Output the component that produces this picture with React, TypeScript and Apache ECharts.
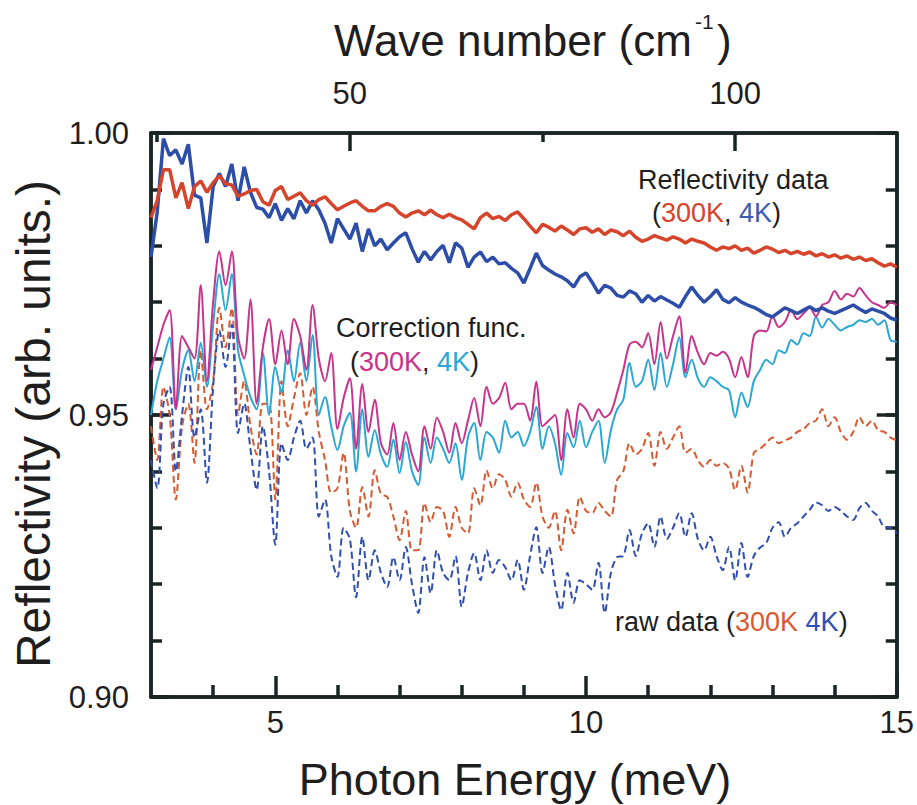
import React, { useEffect, useRef } from "react";
import * as echarts from "echarts";

// Photon energy grid (meV)
const energy = [
  3.0, 3.1, 3.2, 3.3, 3.4, 3.5, 3.6, 3.7, 3.8, 3.9,
  4.0, 4.1, 4.2, 4.3, 4.4, 4.5, 4.6, 4.7, 4.8, 4.9,
  5.0, 5.1, 5.2, 5.3, 5.4, 5.5, 5.6, 5.7, 5.8, 5.9,
  6.0, 6.1, 6.2, 6.3, 6.4, 6.5, 6.6, 6.7, 6.8, 6.9,
  7.0, 7.1, 7.2, 7.3, 7.4, 7.5, 7.6, 7.7, 7.8, 7.9,
  8.0, 8.1, 8.2, 8.3, 8.4, 8.5, 8.6, 8.7, 8.8, 8.9,
  9.0, 9.1, 9.2, 9.3, 9.4, 9.5, 9.6, 9.7, 9.8, 9.9,
  10.0, 10.1, 10.2, 10.3, 10.4, 10.5, 10.6, 10.7, 10.8, 10.9,
  11.0, 11.1, 11.2, 11.3, 11.4, 11.5, 11.6, 11.7, 11.8, 11.9,
  12.0, 12.1, 12.2, 12.3, 12.4, 12.5, 12.6, 12.7, 12.8, 12.9,
  13.0, 13.1, 13.2, 13.3, 13.4, 13.5, 13.6, 13.7, 13.8, 13.9,
  14.0, 14.1, 14.2, 14.3, 14.4, 14.5, 14.6, 14.7, 14.8, 14.9,
  15.0,
];

// Reflectivity data 300K
const refl300K = [
  0.9850, 0.9880, 0.9935, 0.9935, 0.9885, 0.9912, 0.9866, 0.9905, 0.9915, 0.9895,
  0.9912, 0.9924, 0.9910, 0.9908, 0.9888, 0.9892, 0.9898, 0.9900, 0.9878, 0.9872,
  0.9898, 0.9905, 0.9882, 0.9888, 0.9894, 0.9880, 0.9872, 0.9882, 0.9887, 0.9875,
  0.9864, 0.9870, 0.9876, 0.9880, 0.9870, 0.9862, 0.9862, 0.9870, 0.9875, 0.9870,
  0.9858, 0.9851, 0.9858, 0.9862, 0.9855, 0.9863, 0.9855, 0.9850, 0.9856, 0.9850,
  0.9846, 0.9838, 0.9830, 0.9850, 0.9858, 0.9848, 0.9852, 0.9845, 0.9855, 0.9860,
  0.9848, 0.9835, 0.9823, 0.9838, 0.9833, 0.9826, 0.9835, 0.9828, 0.9820, 0.9830,
  0.9832, 0.9824, 0.9830, 0.9820, 0.9828, 0.9825, 0.9818, 0.9826, 0.9815, 0.9808,
  0.9812, 0.9818, 0.9814, 0.9810, 0.9816, 0.9812, 0.9805, 0.9812, 0.9808, 0.9805,
  0.9798, 0.9792, 0.9798, 0.9795, 0.9800, 0.9792, 0.9796, 0.9787, 0.9792, 0.9798,
  0.9794, 0.9788, 0.9792, 0.9786, 0.9790, 0.9785, 0.9789, 0.9782, 0.9786, 0.9780,
  0.9784, 0.9778, 0.9782, 0.9776, 0.9780, 0.9774, 0.9777, 0.9770, 0.9764, 0.9768,
  0.9762,
];

// Reflectivity data 4K
const refl4K = [
  0.9780, 0.9860, 0.9990, 0.9960, 0.9970, 0.9945, 0.9980, 0.9890, 0.9885, 0.9805,
  0.9905, 0.9928, 0.9905, 0.9945, 0.9880, 0.9940, 0.9895, 0.9868, 0.9865, 0.9850,
  0.9875, 0.9845, 0.9866, 0.9848, 0.9880, 0.9858, 0.9880, 0.9864, 0.9840, 0.9805,
  0.9848, 0.9830, 0.9812, 0.9840, 0.9790, 0.9830, 0.9800, 0.9812, 0.9793, 0.9805,
  0.9816, 0.9823, 0.9795, 0.9771, 0.9790, 0.9775, 0.9790, 0.9801, 0.9770, 0.9805,
  0.9796, 0.9762, 0.9780, 0.9789, 0.9772, 0.9780, 0.9768, 0.9770, 0.9760, 0.9752,
  0.9734, 0.9760, 0.9787, 0.9765, 0.9757, 0.9750, 0.9745, 0.9738, 0.9727, 0.9745,
  0.9752, 0.9735, 0.9716, 0.9730, 0.9725, 0.9712, 0.9709, 0.9720, 0.9715, 0.9700,
  0.9712, 0.9702, 0.9710, 0.9704, 0.9698, 0.9691, 0.9710, 0.9727, 0.9712, 0.9700,
  0.9710, 0.9722, 0.9705, 0.9699, 0.9708, 0.9700, 0.9695, 0.9691, 0.9685, 0.9678,
  0.9674, 0.9682, 0.9690, 0.9685, 0.9680, 0.9686, 0.9692, 0.9685, 0.9690, 0.9684,
  0.9680, 0.9685, 0.9690, 0.9695, 0.9688, 0.9682, 0.9688, 0.9684, 0.9680, 0.9672,
  0.9668,
];

// Correction function 300K
const corr300K = [
  0.9580, 0.9620, 0.9660, 0.9686, 0.9510, 0.9640, 0.9620, 0.9600, 0.9730, 0.9560,
  0.9700, 0.9790, 0.9730, 0.9790, 0.9640, 0.9600, 0.9705, 0.9520, 0.9620, 0.9670,
  0.9590, 0.9650, 0.9590, 0.9670, 0.9640, 0.9580, 0.9695, 0.9600, 0.9560, 0.9610,
  0.9475, 0.9530, 0.9565, 0.9440, 0.9555, 0.9470, 0.9527, 0.9450, 0.9430, 0.9486,
  0.9420, 0.9470, 0.9430, 0.9400, 0.9480, 0.9440, 0.9495, 0.9470, 0.9433, 0.9486,
  0.9450, 0.9490, 0.9530, 0.9480, 0.9550, 0.9520, 0.9530, 0.9557, 0.9510, 0.9520,
  0.9520, 0.9490, 0.9559, 0.9480, 0.9490, 0.9500, 0.9420, 0.9510, 0.9460, 0.9520,
  0.9510, 0.9490, 0.9510, 0.9496, 0.9505, 0.9540, 0.9580, 0.9625, 0.9630, 0.9620,
  0.9645, 0.9590, 0.9665, 0.9600, 0.9640, 0.9675, 0.9575, 0.9640, 0.9610, 0.9590,
  0.9610, 0.9605, 0.9612, 0.9600, 0.9567, 0.9603, 0.9567, 0.9640, 0.9650, 0.9648,
  0.9675, 0.9656, 0.9665, 0.9686, 0.9670, 0.9680, 0.9690, 0.9675, 0.9695, 0.9700,
  0.9720, 0.9705, 0.9715, 0.9710, 0.9725, 0.9712, 0.9700, 0.9695, 0.9690, 0.9700,
  0.9695,
];

// Correction function 4K
const corr4K = [
  0.9500, 0.9560, 0.9600, 0.9638, 0.9510, 0.9580, 0.9615, 0.9560, 0.9628, 0.9550,
  0.9660, 0.9750, 0.9686, 0.9750, 0.9615, 0.9570, 0.9532, 0.9510, 0.9610, 0.9500,
  0.9585, 0.9540, 0.9615, 0.9560, 0.9628, 0.9560, 0.9642, 0.9500, 0.9532, 0.9480,
  0.9438, 0.9480, 0.9504, 0.9400, 0.9510, 0.9426, 0.9473, 0.9430, 0.9408, 0.9456,
  0.9397, 0.9452, 0.9400, 0.9376, 0.9460, 0.9415, 0.9460, 0.9440, 0.9415, 0.9450,
  0.9385, 0.9460, 0.9486, 0.9420, 0.9470, 0.9460, 0.9433, 0.9490, 0.9460, 0.9470,
  0.9445, 0.9470, 0.9514, 0.9440, 0.9480, 0.9450, 0.9394, 0.9468, 0.9443, 0.9490,
  0.9443, 0.9470, 0.9490, 0.9415, 0.9473, 0.9510, 0.9527, 0.9592, 0.9550, 0.9560,
  0.9598, 0.9544, 0.9610, 0.9550, 0.9590, 0.9638, 0.9567, 0.9598, 0.9565, 0.9550,
  0.9567, 0.9560, 0.9550, 0.9544, 0.9496, 0.9540, 0.9514, 0.9560, 0.9580, 0.9598,
  0.9590, 0.9615, 0.9610, 0.9633, 0.9625, 0.9645, 0.9640, 0.9674, 0.9655, 0.9670,
  0.9660, 0.9650, 0.9656, 0.9660, 0.9668, 0.9665, 0.9670, 0.9660, 0.9668, 0.9633,
  0.9630,
];

// Raw data 300K
const raw300K = [
  0.9480, 0.9420, 0.9550, 0.9500, 0.9350, 0.9480, 0.9520, 0.9415, 0.9615, 0.9510,
  0.9560, 0.9690, 0.9620, 0.9690, 0.9500, 0.9560, 0.9480, 0.9430, 0.9520, 0.9520,
  0.9350, 0.9560, 0.9480, 0.9530, 0.9574, 0.9500, 0.9550, 0.9470, 0.9420, 0.9362,
  0.9370, 0.9433, 0.9330, 0.9300, 0.9372, 0.9320, 0.9402, 0.9360, 0.9355, 0.9320,
  0.9278, 0.9330, 0.9260, 0.9260, 0.9344, 0.9310, 0.9337, 0.9330, 0.9284, 0.9337,
  0.9300, 0.9290, 0.9370, 0.9340, 0.9402, 0.9370, 0.9395, 0.9385, 0.9355, 0.9380,
  0.9350, 0.9337, 0.9380, 0.9320, 0.9300, 0.9330, 0.9260, 0.9332, 0.9290, 0.9355,
  0.9330, 0.9326, 0.9344, 0.9330, 0.9320, 0.9385, 0.9400, 0.9450, 0.9430, 0.9440,
  0.9468, 0.9410, 0.9470, 0.9440, 0.9460, 0.9480, 0.9433, 0.9440, 0.9420, 0.9408,
  0.9420, 0.9410, 0.9415, 0.9405, 0.9367, 0.9410, 0.9362, 0.9433, 0.9440, 0.9450,
  0.9460, 0.9450, 0.9455, 0.9460, 0.9470, 0.9475, 0.9486, 0.9490, 0.9510, 0.9480,
  0.9496, 0.9470, 0.9456, 0.9470, 0.9496, 0.9480, 0.9490, 0.9473, 0.9470, 0.9460,
  0.9455,
];

// Raw data 4K
const raw4K = [
  0.9420, 0.9370, 0.9520, 0.9550, 0.9400, 0.9500, 0.9585, 0.9460, 0.9510, 0.9380,
  0.9550, 0.9650, 0.9585, 0.9660, 0.9468, 0.9520, 0.9440, 0.9367, 0.9480, 0.9400,
  0.9270, 0.9450, 0.9420, 0.9460, 0.9490, 0.9440, 0.9460, 0.9320, 0.9350, 0.9250,
  0.9213, 0.9300, 0.9280, 0.9177, 0.9284, 0.9207, 0.9260, 0.9220, 0.9195, 0.9248,
  0.9207, 0.9266, 0.9200, 0.9149, 0.9248, 0.9184, 0.9260, 0.9220, 0.9207, 0.9250,
  0.9160, 0.9220, 0.9255, 0.9207, 0.9260, 0.9220, 0.9243, 0.9230, 0.9207, 0.9243,
  0.9190, 0.9250, 0.9301, 0.9220, 0.9266, 0.9200, 0.9154, 0.9220, 0.9167, 0.9207,
  0.9200, 0.9190, 0.9238, 0.9149, 0.9220, 0.9248, 0.9250, 0.9296, 0.9250, 0.9290,
  0.9308, 0.9266, 0.9320, 0.9280, 0.9300, 0.9326, 0.9284, 0.9326, 0.9280, 0.9260,
  0.9284, 0.9250, 0.9225, 0.9266, 0.9207, 0.9273, 0.9213, 0.9250, 0.9265, 0.9273,
  0.9300, 0.9310, 0.9284, 0.9300, 0.9308, 0.9320, 0.9332, 0.9345, 0.9340, 0.9330,
  0.9337, 0.9330, 0.9320, 0.9314, 0.9335, 0.9344, 0.9330, 0.9320, 0.9301, 0.9300,
  0.9290,
];

const energyMajorTicks = [5, 10, 15];
const energyMinorTicks = [4, 6, 7, 8, 9, 11, 12, 13, 14];
const waveMajorTicks = [50, 100];
const waveMinorTicks = [25, 75];
const MEV_TO_CM = 8.0655;

const FONT = "'Liberation Sans', Arial, Helvetica, sans-serif";
const AX = "#1a2424";
const TXT = "#1e1e1e";
const C_RED = "#d6452b";
const C_BLUE = "#2c4ea8";
const C_MAG = "#c8338c";
const C_CYAN = "#2ba7d6";
const C_RAWR = "#d85a30";
const C_RAWB = "#2f4fb2";

const pairs = (ys: number[]) => energy.map((e, i) => [e, ys[i]]);

export default function App() {
  const ref = useRef<HTMLDivElement>(null);
  useEffect(() => {
    document.body.style.margin = "0";
    const chart = echarts.init(ref.current!, null, { renderer: "svg" });
    const axisLine = { show: true, onZero: false, lineStyle: { color: AX, width: 3.5 } };
    const xBase = {
      type: "value" as const,
      min: 3,
      max: 15,
      axisLine,
      splitLine: { show: false },
    };
    const yBase = {
      type: "value" as const,
      min: 0.9,
      max: 1.0,
      axisLine,
      splitLine: { show: false },
    };
    const tick = (len: number, extra: any = {}) => ({
      show: true,
      inside: true,
      length: len,
      lineStyle: { color: AX, width: 3.5 },
      ...extra,
    });
    const line = (
      name: string,
      ys: number[],
      color: string,
      width: number,
      dashed: boolean,
      z: number,
      smooth: number | boolean
    ) => ({
      name,
      type: "line",
      data: pairs(ys),
      showSymbol: false,
      smooth,
      z,
      lineStyle: { color, width, type: dashed ? [7, 4] : "solid" },
      xAxisIndex: 0,
      yAxisIndex: 0,
    });
    const option: any = {
      animation: false,
      backgroundColor: "#ffffff",
      grid: { left: 151, right: 18, top: 133, bottom: 108 },
      xAxis: [
        {
          ...xBase,
          position: "bottom",
          axisTick: tick(21, { customValues: energyMajorTicks }),
          axisLabel: {
            customValues: energyMajorTicks,
            fontSize: 31,
            fontFamily: FONT,
            color: TXT,
            margin: 10,
          },
        },
        {
          ...xBase,
          position: "bottom",
          axisTick: tick(12, { customValues: energyMinorTicks }),
          axisLabel: { show: false },
        },
        {
          ...xBase,
          position: "top",
          axisTick: tick(18, { customValues: waveMajorTicks.map((w) => w / MEV_TO_CM) }),
          axisLabel: {
            customValues: waveMajorTicks.map((w) => w / MEV_TO_CM),
            formatter: (v: number) => String(Math.round(v * MEV_TO_CM)),
            fontSize: 31,
            fontFamily: FONT,
            color: TXT,
            margin: 24,
          },
        },
        {
          ...xBase,
          position: "top",
          axisTick: tick(9, { customValues: waveMinorTicks.map((w) => w / MEV_TO_CM) }),
          axisLabel: { show: false },
        },
      ],
      yAxis: [
        {
          ...yBase,
          position: "left",
          interval: 0.05,
          axisTick: tick(20),
          axisLabel: {
            formatter: (v: number) => v.toFixed(2),
            fontSize: 31,
            fontFamily: FONT,
            color: TXT,
            margin: 22,
          },
        },
        {
          ...yBase,
          position: "left",
          interval: 0.01,
          axisTick: tick(11),
          axisLabel: { show: false },
        },
        {
          ...yBase,
          position: "right",
          interval: 0.05,
          axisTick: tick(20),
          axisLabel: { show: false },
        },
        {
          ...yBase,
          position: "right",
          interval: 0.01,
          axisTick: tick(11),
          axisLabel: { show: false },
        },
      ],
      series: [
        line("raw 300K", raw300K, C_RAWR, 2, true, 2, 0.3),
        line("raw 4K", raw4K, C_RAWB, 2, true, 2, 0.3),
        line("correction 4K", corr4K, C_CYAN, 2, false, 3, 0.3),
        line("correction 300K", corr300K, C_MAG, 2, false, 3, 0.3),
        line("reflectivity 4K", refl4K, C_BLUE, 3.5, false, 4, false),
        line("reflectivity 300K", refl300K, C_RED, 3.5, false, 5, false),
      ],
      graphic: [
        {
          type: "text",
          x: 33,
          y: 424,
          rotation: Math.PI / 2,
          style: {
            text: "Reflectivity (arb. units.)",
            fontSize: 48,
            fontFamily: FONT,
            fill: TXT,
            align: "center",
            verticalAlign: "middle",
          },
        },
        {
          type: "text",
          x: 515,
          y: 779,
          style: {
            text: "Photon Energy (meV)",
            fontSize: 45,
            fontFamily: FONT,
            fill: TXT,
            align: "center",
            verticalAlign: "middle",
          },
        },
        {
          type: "text",
          x: 334,
          y: 40,
          style: {
            text: "Wave number (cm",
            fontSize: 44,
            fontFamily: FONT,
            fill: TXT,
            align: "left",
            verticalAlign: "middle",
          },
        },
        {
          type: "text",
          x: 695,
          y: 21,
          style: {
            text: "-1",
            fontSize: 21,
            fontFamily: FONT,
            fill: TXT,
            align: "left",
            verticalAlign: "middle",
          },
        },
        {
          type: "text",
          x: 717,
          y: 40,
          style: {
            text: ")",
            fontSize: 44,
            fontFamily: FONT,
            fill: TXT,
            align: "left",
            verticalAlign: "middle",
          },
        },
        {
          type: "text",
          x: 638,
          y: 180,
          style: {
            text: "Reflectivity data",
            fontSize: 27,
            fontFamily: FONT,
            fill: TXT,
            align: "left",
            verticalAlign: "middle",
          },
        },
        {
          type: "text",
          x: 652,
          y: 213,
          style: {
            text: "({a|300K}, {b|4K})",
            fontSize: 27,
            fontFamily: FONT,
            fill: TXT,
            align: "left",
            verticalAlign: "middle",
            rich: {
              a: { fill: C_RED, fontSize: 27, fontFamily: FONT },
              b: { fill: "#3a5cb2", fontSize: 27, fontFamily: FONT },
            },
          },
        },
        {
          type: "text",
          x: 336,
          y: 328,
          style: {
            text: "Correction func.",
            fontSize: 27,
            fontFamily: FONT,
            fill: TXT,
            align: "left",
            verticalAlign: "middle",
          },
        },
        {
          type: "text",
          x: 350,
          y: 362,
          style: {
            text: "({a|300K}, {b|4K})",
            fontSize: 27,
            fontFamily: FONT,
            fill: TXT,
            align: "left",
            verticalAlign: "middle",
            rich: {
              a: { fill: C_MAG, fontSize: 27, fontFamily: FONT },
              b: { fill: C_CYAN, fontSize: 27, fontFamily: FONT },
            },
          },
        },
        {
          type: "text",
          x: 615,
          y: 622,
          style: {
            text: "raw data ({a|300K} {b|4K})",
            fontSize: 27,
            fontFamily: FONT,
            fill: TXT,
            align: "left",
            verticalAlign: "middle",
            rich: {
              a: { fill: C_RAWR, fontSize: 27, fontFamily: FONT },
              b: { fill: C_RAWB, fontSize: 27, fontFamily: FONT },
            },
          },
        },
      ],
    };
    chart.setOption(option);
    return () => chart.dispose();
  }, []);
  return <div ref={ref} style={{ width: 917, height: 805 }} />;
}
